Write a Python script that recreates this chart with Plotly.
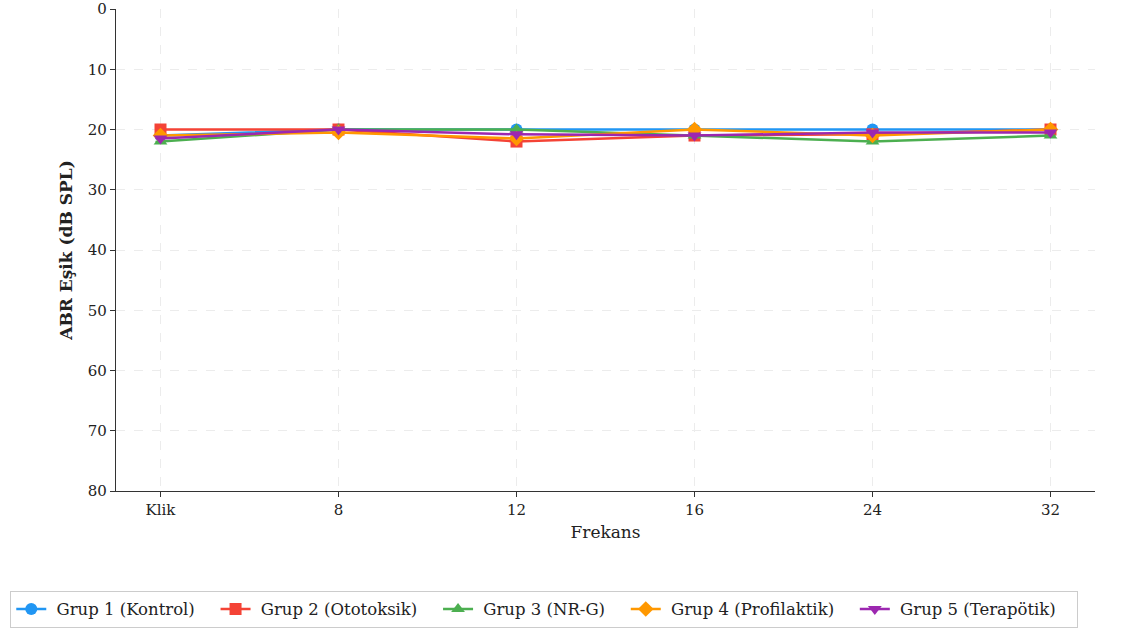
import plotly.graph_objects as go

# Frequencies (click + tone bursts in kHz)
frekans = ["Klik", "8", "12", "16", "24", "32"]

# Mean ABR thresholds per group (dB SPL)
grup1 = [21.0, 20.0, 20.0, 20.0, 20.0, 20.0]
grup2 = [20.0, 20.0, 22.0, 21.0, 20.8, 20.0]
grup3 = [22.0, 20.0, 20.0, 21.0, 22.0, 21.0]
grup4 = [21.0, 20.5, 21.5, 20.0, 21.0, 20.0]
grup5 = [21.5, 20.0, 20.8, 21.0, 20.5, 20.5]

# Standard deviations
sd = [0, 0, 0, 0, 0, 0]

series = [
    ("Grup 1 (Kontrol)", grup1, "#2196F3", "circle"),
    ("Grup 2 (Ototoksik)", grup2, "#F44336", "square"),
    ("Grup 3 (NR-G)", grup3, "#4CAF50", "triangle-up"),
    ("Grup 4 (Profilaktik)", grup4, "#FF9800", "diamond"),
    ("Grup 5 (Terapötik)", grup5, "#9C27B0", "triangle-down"),
]

fig = go.Figure()
for name, vals, color, sym in series:
    fig.add_trace(go.Scatter(
        x=frekans, y=vals, name="\u00a0" + name + "   ", mode="lines+markers",
        line=dict(color=color, width=2.5),
        marker=dict(color=color, symbol=sym, size=12),
        error_y=dict(type="data", array=sd, color=color, thickness=1.5, width=5),
    ))

font_family = "DejaVu Serif"
fig.update_layout(
    width=1137, height=637,
    margin=dict(l=116, r=42, t=9, b=146),
    paper_bgcolor="white", plot_bgcolor="white",
    font=dict(family=font_family, size=15, color="#222"),
    legend=dict(
        orientation="h", x=-0.108, xanchor="left", y=-0.207, yanchor="top",
        bordercolor="#cccccc", borderwidth=1, font=dict(size=16.5),
    ),
    xaxis=dict(
        type="category", range=[-0.25, 5.25], automargin=False,
        title=dict(text="Frekans", font=dict(size=17), standoff=8),
        showline=True, linecolor="#333", linewidth=1.2,
        ticks="outside", ticklen=5, tickcolor="#333",
        showgrid=True, gridcolor="#ececec", griddash="dash", gridwidth=1,
        tickfont=dict(size=15), zeroline=False,
    ),
    yaxis=dict(
        range=[80, 0], tickvals=[0, 10, 20, 30, 40, 50, 60, 70, 80],
        automargin=False,
        title=dict(text="<b>ABR Eşik (dB SPL)</b>", font=dict(size=17), standoff=10),
        showline=True, linecolor="#333", linewidth=1.2,
        ticks="outside", ticklen=5, tickcolor="#333",
        showgrid=True, gridcolor="#ececec", griddash="dash", gridwidth=1,
        tickfont=dict(size=15), zeroline=False,
    ),
)

fig.write_html("out.html")
